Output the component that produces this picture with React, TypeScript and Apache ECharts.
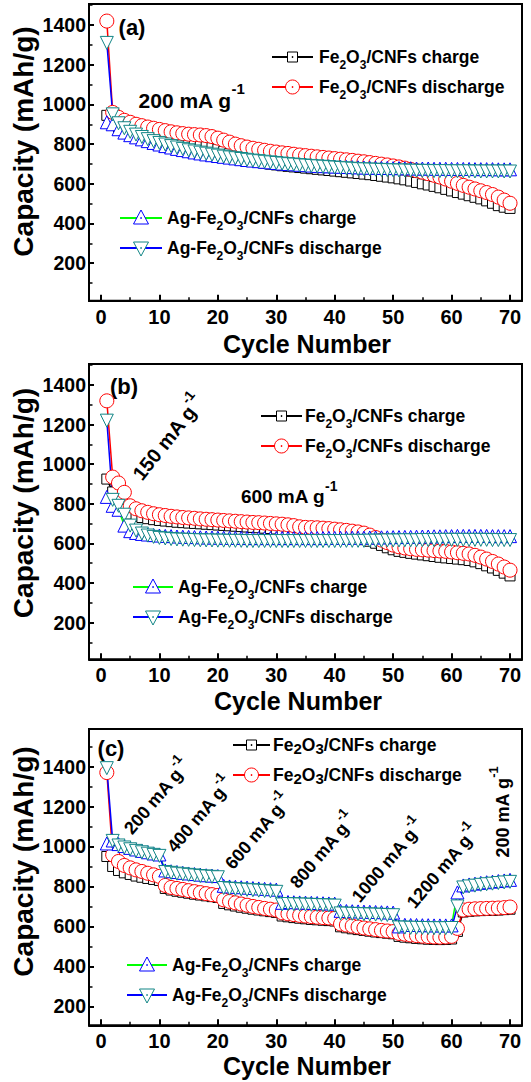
import React, { useEffect, useRef } from 'react';
import * as echarts from 'echarts';

const FONT = "'Liberation Sans', Arial, Helvetica, sans-serif";

const cycles = [
  1, 2, 3, 4, 5, 6, 7, 8, 9, 10, 11, 12, 13, 14, 15, 16, 17, 18, 19, 20,
  21, 22, 23, 24, 25, 26, 27, 28, 29, 30, 31, 32, 33, 34, 35, 36, 37, 38, 39, 40,
  41, 42, 43, 44, 45, 46, 47, 48, 49, 50, 51, 52, 53, 54, 55, 56, 57, 58, 59, 60,
  61, 62, 63, 64, 65, 66, 67, 68, 69, 70,
];
const xTicks = [0, 10, 20, 30, 40, 50, 60, 70];
const xMinorTicks = [5, 15, 25, 35, 45, 55, 65];
const yTicks = [200, 400, 600, 800, 1000, 1200, 1400];
const yMinorTicks = [100, 300, 500, 700, 900, 1100, 1300, 1500];

// Panel (a) 200 mA/g
const aFeCharge = [945, 905, 880, 865, 855, 846, 838, 831, 825, 819,
  814, 809, 804, 800, 797, 794, 791, 787, 782, 775,
  764, 752, 740, 730, 722, 715, 709, 704, 699, 695,
  691, 688, 685, 682, 679, 676, 673, 670, 667, 664,
  661, 658, 655, 652, 649, 646, 642, 638, 634, 630,
  625, 620, 614, 607, 600, 594, 587, 580, 572, 564,
  556, 548, 540, 532, 524, 514, 502, 490, 482, 476];
const aFeDischarge = [1420, 960, 935, 920, 910, 900, 893, 886, 880, 874,
  868, 862, 857, 853, 850, 848, 846, 843, 838, 830,
  820, 810, 800, 792, 785, 779, 774, 769, 764, 760,
  756, 753, 749, 745, 742, 739, 736, 733, 730, 727,
  724, 721, 718, 714, 711, 707, 703, 699, 695, 690,
  685, 679, 673, 666, 659, 651, 643, 634, 624, 613,
  602, 592, 583, 574, 565, 556, 546, 533, 518, 502];
const aAgCharge = [910, 900, 875, 858, 845, 834, 824, 815, 806, 798,
  790, 783, 776, 770, 764, 758, 753, 748, 744, 740,
  736, 732, 728, 724, 720, 717, 714, 711, 708, 705,
  702, 700, 698, 696, 694, 692, 690, 689, 688, 687,
  686, 685, 684, 683, 682, 681, 681, 680, 680, 679,
  679, 678, 678, 677, 677, 677, 676, 676, 676, 675,
  675, 675, 675, 674, 674, 674, 674, 673, 673, 673];
const aAgDischarge = [1310, 950, 905, 880, 862, 848, 836, 825, 815, 806,
  798, 790, 783, 776, 769, 763, 757, 752, 747, 742,
  737, 733, 729, 725, 721, 717, 714, 711, 708, 705,
  702, 699, 697, 694, 692, 690, 688, 686, 684, 682,
  680, 678, 676, 674, 673, 672, 671, 670, 669, 668,
  667, 667, 666, 666, 665, 665, 664, 664, 664, 663,
  663, 663, 663, 662, 662, 662, 662, 662, 662, 662];

// Panel (b) 150 then 600 mA/g
const bFeCharge = [925, 860, 820, 772, 748, 738, 731, 725, 720, 716,
  713, 710, 707, 705, 703, 701, 699, 697, 695, 693,
  691, 689, 687, 685, 683, 681, 679, 677, 675, 673,
  670, 667, 664, 660, 657, 654, 651, 648, 645, 642,
  638, 634, 630, 625, 619, 611, 601, 590, 578, 568,
  560, 555, 550, 546, 542, 538, 534, 530, 527, 524,
  521, 518, 514, 507, 498, 487, 476, 464, 450, 436];
const bFeDischarge = [1320, 935, 905, 858, 790, 775, 765, 757, 750, 745,
  741, 737, 734, 731, 729, 727, 724, 722, 720, 718,
  716, 714, 712, 710, 708, 706, 705, 703, 701, 699,
  697, 694, 690, 684, 681, 680, 679, 677, 675, 672,
  669, 666, 662, 658, 652, 642, 630, 617, 604, 592,
  583, 577, 573, 570, 568, 566, 564, 562, 560, 557,
  553, 550, 547, 540, 531, 521, 509, 496, 481, 465];
const bAgCharge = [835, 790, 770, 690, 662, 653, 648, 645, 642, 640,
  638, 637, 635, 634, 633, 632, 631, 630, 630, 629,
  629, 628, 628, 628, 627, 627, 627, 627, 627, 627,
  627, 627, 627, 627, 627, 627, 627, 627, 628, 628,
  628, 628, 629, 629, 629, 630, 630, 631, 631, 632,
  632, 633, 633, 634, 635, 635, 636, 636, 637, 637,
  638, 638, 638, 638, 638, 638, 637, 637, 637, 637];
const bAgDischarge = [1220, 820, 790, 745, 690, 665, 650, 640, 633, 628,
  625, 622, 620, 619, 618, 617, 616, 615, 615, 614,
  614, 613, 613, 613, 612, 612, 612, 612, 612, 612,
  612, 612, 612, 612, 612, 612, 612, 612, 612, 612,
  612, 613, 613, 613, 613, 614, 614, 614, 615, 615,
  615, 616, 616, 616, 617, 617, 617, 618, 618, 618,
  618, 618, 618, 618, 618, 618, 617, 617, 617, 617];

// Panel (c) rate capability
const cFeCharge = [950, 900, 880, 868, 860, 852, 846, 840, 835, 830,
  790, 782, 776, 771, 766, 761, 757, 753, 749, 745,
  715, 708, 702, 696, 691, 686, 682, 678, 674, 670,
  652, 648, 644, 641, 638, 635, 633, 631, 629, 627,
  598, 593, 588, 584, 580, 576, 572, 569, 566, 563,
  550, 546, 543, 540, 538, 536, 535, 534, 535, 537,
  575, 672, 676, 678, 679, 680, 681, 682, 684, 686];
const cFeDischarge = [1370, 958, 925, 905, 893, 883, 875, 866, 858, 850,
  805, 795, 790, 785, 779, 774, 769, 764, 759, 755,
  733, 725, 718, 712, 706, 700, 695, 690, 686, 682,
  668, 663, 659, 655, 652, 649, 646, 644, 642, 640,
  612, 607, 602, 597, 592, 588, 584, 580, 577, 574,
  565, 561, 557, 554, 551, 549, 547, 546, 547, 550,
  590, 682, 686, 688, 689, 690, 691, 692, 694, 697];
const cAgCharge = [1015, 1030, 1012, 1002, 993, 985, 978, 971, 965, 960,
  880, 876, 872, 868, 865, 862, 859, 856, 854, 852,
  803, 800, 798, 796, 794, 792, 790, 788, 786, 784,
  718, 722, 721, 720, 719, 718, 717, 716, 715, 714,
  678, 677, 676, 675, 674, 673, 672, 671, 670, 669,
  600, 608, 607, 607, 606, 606, 605, 605, 605, 605,
  770, 805, 810, 814, 818, 821, 824, 827, 830, 833];
const cAgDischarge = [1392, 1028, 1005, 995, 986, 978, 971, 964, 958, 953,
  872, 868, 864, 861, 858, 855, 852, 850, 848, 846,
  792, 789, 787, 785, 783, 781, 779, 777, 775, 773,
  710, 712, 711, 710, 709, 708, 707, 706, 705, 704,
  665, 664, 663, 662, 661, 660, 659, 658, 657, 656,
  595, 594, 593, 593, 592, 592, 591, 591, 591, 592,
  700, 795, 800, 804, 808, 811, 814, 817, 820, 823];

const GRID_LEFT = 89;
const GRID_WIDTH = 433;
const X_MIN = -2.05;
const X_MAX = 72.05;

const panels = [
  { top: 4, height: 296.7, yMin: 11, yMax: 1506, data: [aFeCharge, aFeDischarge, aAgCharge, aAgDischarge] },
  { top: 364, height: 295.3, yMin: 15, yMax: 1506, data: [bFeCharge, bFeDischarge, bAgCharge, bAgDischarge] },
  { top: 729, height: 296.3, yMin: 105, yMax: 1588, data: [cFeCharge, cFeDischarge, cAgCharge, cAgDischarge] },
];

const seriesStyles = [
  { name: 'Fe2O3/CNFs charge', symbol: 'rect', size: 10, rotate: 0, border: '#000000', line: '#000000' },
  { name: 'Fe2O3/CNFs discharge', symbol: 'circle', size: 14, rotate: 0, border: '#ff0000', line: '#ff0000' },
  { name: 'Ag-Fe2O3/CNFs charge', symbol: 'triangle', size: 13, rotate: 0, border: '#0000ff', line: '#00ff00' },
  { name: 'Ag-Fe2O3/CNFs discharge', symbol: 'triangle', size: 13, rotate: 180, border: '#108585', line: '#0000ff' },
];

const boldText = (x: number, y: number, text: string, size: number, rotation = 0, lineHeight?: number) => ({
  type: 'text', x, y, rotation, z: 100,
  style: {
    text, fontSize: size, fontWeight: 'bold', fontFamily: FONT, fill: '#000',
    lineHeight: lineHeight ?? Math.round(size * 1.15),
    align: 'center', verticalAlign: 'middle', textAlign: 'center', textVerticalAlign: 'middle',
  },
});

const supText = (x: number, y: number, main: string, sup: string, size: number, supSize: number, lineH: number, rotation = 0) => ({
  type: 'text', x, y, rotation, z: 100,
  style: {
    text: `{m|${main}}{s|${sup}}`,
    align: 'center', verticalAlign: 'middle', textAlign: 'center', textVerticalAlign: 'middle',
    rich: {
      m: { fontSize: size, fontWeight: 'bold', fontFamily: FONT, fill: '#000', lineHeight: lineH },
      s: { fontSize: supSize, fontWeight: 'bold', fontFamily: FONT, fill: '#000', lineHeight: supSize, verticalAlign: 'top' },
    },
  },
});

const legendLabel = (prefix: string, suffix: string) =>
  `{m|${prefix}Fe}{s|2}{m|O}{s|3}{m|/CNFs ${suffix}}`;

const legendEntry = (x1: number, x2: number, tx: number, y: number, kind: number, prefix: string, suffix: string, bigSub = false) => {
  const st = seriesStyles[kind];
  const cx = (x1 + x2) / 2;
  const els: any[] = [
    { type: 'line', z: 100, shape: { x1, y1: y, x2, y2: y }, style: { stroke: st.line, lineWidth: 2 } },
  ];
  if (kind === 0) {
    els.push({ type: 'rect', z: 101, shape: { x: cx - 5, y: y - 5, width: 10, height: 10 }, style: { fill: '#fff', stroke: st.border, lineWidth: 1 } });
  } else if (kind === 1) {
    els.push({ type: 'circle', z: 101, shape: { cx, cy: y, r: 7 }, style: { fill: '#fff', stroke: st.border, lineWidth: 1 } });
  } else if (kind === 2) {
    els.push({ type: 'polygon', z: 101, shape: { points: [[cx, y - 8], [cx + 7.5, y + 6], [cx - 7.5, y + 6]] }, style: { fill: '#fff', stroke: st.border, lineWidth: 1 } });
  } else {
    els.push({ type: 'polygon', z: 101, shape: { points: [[cx - 7.5, y - 6], [cx + 7.5, y - 6], [cx, y + 8]] }, style: { fill: '#fff', stroke: st.border, lineWidth: 1 } });
  }
  els.push({ type: 'circle', z: 102, shape: { cx, cy: y, r: 0.8 }, style: { fill: st.border } });
  els.push({
    type: 'text', x: tx, y, z: 100,
    style: {
      text: legendLabel(prefix, suffix),
      align: 'left', verticalAlign: 'middle', textAlign: 'left', textVerticalAlign: 'middle',
      rich: {
        m: { fontSize: 17.5, fontWeight: 'bold', fontFamily: FONT, fill: '#000', lineHeight: bigSub ? 22 : 28 },
        s: bigSub
          ? { fontSize: 15, fontWeight: 'bold', fontFamily: FONT, fill: '#000', lineHeight: 15, verticalAlign: 'bottom' }
          : { fontSize: 12, fontWeight: 'bold', fontFamily: FONT, fill: '#000', lineHeight: 10, verticalAlign: 'bottom' },
      },
    },
  });
  return els;
};

const plainNumber = (v: number) => String(Math.round(v));

export default function App() {
  const ref = useRef<HTMLDivElement>(null);
  useEffect(() => {
    if (!ref.current) return;
    const chart = echarts.init(ref.current, undefined, { renderer: 'svg' });
    const grids: any[] = [];
    const xAxes: any[] = [];
    const yAxes: any[] = [];
    const series: any[] = [];
    panels.forEach((p, i) => {
      grids.push({ left: GRID_LEFT, top: p.top, width: GRID_WIDTH, height: p.height, show: true, borderColor: '#000', borderWidth: 2, containLabel: false });
      xAxes.push({
        type: 'value', gridIndex: i, min: X_MIN, max: X_MAX, position: 'bottom',
        axisLine: { show: true, onZero: false, lineStyle: { color: '#000', width: 2 } },
        axisTick: { show: true, inside: true, length: 6, customValues: xTicks, lineStyle: { color: '#000', width: 2 } },
        axisLabel: { show: true, customValues: xTicks, formatter: plainNumber, fontSize: 20, lineHeight: 20, fontWeight: 'bold', fontFamily: FONT, color: '#000', margin: 6 },
        splitLine: { show: false },
      });
      yAxes.push({
        type: 'value', gridIndex: i, min: p.yMin, max: p.yMax, position: 'left',
        axisLine: { show: true, onZero: false, lineStyle: { color: '#000', width: 2 } },
        axisTick: { show: true, inside: true, length: 5, customValues: yTicks, lineStyle: { color: '#000', width: 2 } },
        axisLabel: { show: true, customValues: yTicks, formatter: plainNumber, fontSize: 19.5, fontWeight: 'bold', fontFamily: FONT, color: '#000', margin: 3 },
        splitLine: { show: false },
      });
      p.data.forEach((arr, k) => {
        const st = seriesStyles[k];
        series.push({
          type: 'line', name: st.name, xAxisIndex: i, yAxisIndex: i,
          data: cycles.map((c, j) => [c, arr[j]]),
          symbol: st.symbol, symbolSize: st.size, symbolRotate: st.rotate,
          showSymbol: true, showAllSymbol: true,
          itemStyle: { color: '#ffffff', borderColor: st.border, borderWidth: 1 },
          lineStyle: { color: st.line, width: 1.5 },
          emphasis: { disabled: true },
          silent: true,
        });
      });
    });
    // duplicate grids carrying only the minor ticks
    panels.forEach((p, i) => {
      const gi = panels.length + i;
      grids.push({ left: GRID_LEFT, top: p.top, width: GRID_WIDTH, height: p.height, show: false });
      xAxes.push({
        type: 'value', gridIndex: gi, min: X_MIN, max: X_MAX, position: 'bottom',
        axisLine: { show: false, onZero: false },
        axisTick: { show: true, inside: true, length: 3.5, customValues: xMinorTicks, lineStyle: { color: '#000', width: 1.5 } },
        axisLabel: { show: false },
        splitLine: { show: false },
      });
      yAxes.push({
        type: 'value', gridIndex: gi, min: p.yMin, max: p.yMax, position: 'left',
        axisLine: { show: false, onZero: false },
        axisTick: { show: true, inside: true, length: 3.5, customValues: yMinorTicks.filter((v) => v > p.yMin && v < p.yMax), lineStyle: { color: '#000', width: 1.5 } },
        axisLabel: { show: false },
        splitLine: { show: false },
      });
    });

    const graphic: any[] = [
      // axis titles
      boldText(23, 141.5, 'Capacity (mAh/g)', 28, Math.PI / 2, 28),
      boldText(23, 503, 'Capacity (mAh/g)', 28, Math.PI / 2, 28),
      boldText(23, 861.5, 'Capacity (mAh/g)', 28, Math.PI / 2, 28),
      boldText(307, 344, 'Cycle Number', 25, 0, 20),
      boldText(298, 701, 'Cycle Number', 25, 0, 20),
      boldText(307, 1066, 'Cycle Number', 25, 0, 20),
      // panel tags
      boldText(132, 27, '(a)', 22),
      boldText(124, 386, '(b)', 22),
      boldText(111, 748, '(c)', 22),
      // rate annotations
      supText(191.5, 100.5, '200 mA g', '-1', 21, 15, 40),
      supText(289, 496.7, '600 mA g', '-1', 19, 14, 36),
      supText(168, 438, '150 mA g', '-1', 20, 14, 34, 0.9),
      supText(157, 797, '200 mA g', '-1', 18, 13, 32, 0.87),
      supText(200, 815, '400 mA g', '-1', 18, 13, 32, 0.87),
      supText(258, 832, '600 mA g', '-1', 18, 13, 32, 0.87),
      supText(323, 851, '800 mA g', '-1', 18, 13, 32, 0.87),
      supText(388, 861, '1000 mA g', '-1', 18, 13, 32, 0.87),
      supText(443, 867, '1200 mA g', '-1', 18, 13, 32, 0.87),
      supText(503, 812, '200 mA g', '-1', 18, 13, 32, Math.PI / 2),
      // legends
      ...legendEntry(272, 313, 319, 57, 0, '', 'charge'),
      ...legendEntry(272, 313, 319, 87, 1, '', 'discharge'),
      ...legendEntry(120, 162, 167, 218, 2, 'Ag-', 'charge'),
      ...legendEntry(120, 162, 167, 248, 3, 'Ag-', 'discharge'),
      ...legendEntry(261, 302, 305, 416, 0, '', 'charge'),
      ...legendEntry(261, 302, 305, 446, 1, '', 'discharge'),
      ...legendEntry(133, 173, 178, 587, 2, 'Ag-', 'charge'),
      ...legendEntry(133, 173, 178, 617, 3, 'Ag-', 'discharge'),
      ...legendEntry(233, 270, 273, 745, 0, '', 'charge', true),
      ...legendEntry(233, 270, 273, 775, 1, '', 'discharge', true),
      ...legendEntry(127, 167, 172, 965, 2, 'Ag-', 'charge'),
      ...legendEntry(127, 167, 172, 995, 3, 'Ag-', 'discharge'),
    ];

    chart.setOption({
      animation: false,
      backgroundColor: '#ffffff',
      grid: grids,
      xAxis: xAxes,
      yAxis: yAxes,
      series,
      graphic,
    });
    return () => chart.dispose();
  }, []);
  return <div ref={ref} style={{ position: 'absolute', left: 0, top: 0, width: 531, height: 1082 }} />;
}
